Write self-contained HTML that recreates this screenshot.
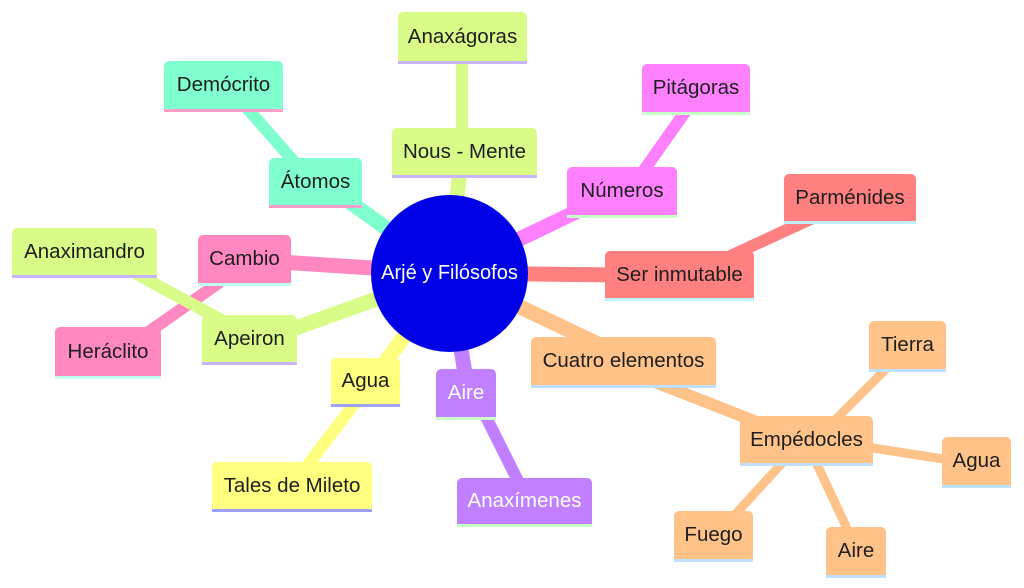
<!DOCTYPE html>
<html><head><meta charset="utf-8"><style>
body{margin:0;width:1024px;height:588px;background:#fff;position:relative;overflow:hidden;font-family:"Liberation Sans",sans-serif}
.b{position:absolute;box-sizing:border-box;border-radius:5px 5px 0 0;font-size:20.5px;color:#1e1e1e;display:flex;align-items:center;justify-content:center;border-bottom:3px solid;white-space:nowrap}
svg{position:absolute;left:0;top:0}
.g{background:#d9fb88;border-color:#c8b4ff}
.t{background:#80ffcf;border-color:#ff9ec8}
.m{background:#ff80ff;border-color:#c8ffc8}
.s{background:#ff8080;border-color:#c0f4ff}
.p{background:#ff88c0;border-color:#c0fff0}
.y{background:#ffff80;border-color:#a0a0ff}
.v{background:#c080ff;border-color:#c8ffc8}
.o{background:#ffc288;border-color:#c0e0ff}
</style></head><body>
<svg width="1024" height="588" stroke-linecap="butt">
<g stroke-width="15">
<line x1="449" y1="273" x2="460" y2="170" stroke="#d9fb88"/>
<line x1="449" y1="273" x2="340" y2="195" stroke="#80ffcf"/>
<line x1="449" y1="273" x2="580" y2="210" stroke="#ff80ff"/>
<line x1="449" y1="273" x2="620" y2="275" stroke="#ff8080"/>
<line x1="449" y1="273" x2="280" y2="262" stroke="#ff88c0"/>
<line x1="449" y1="273" x2="290" y2="330" stroke="#d9fb88"/>
<line x1="449" y1="273" x2="380" y2="370" stroke="#ffff80"/>
<line x1="449" y1="273" x2="466" y2="380" stroke="#c080ff"/>
<line x1="449" y1="273" x2="600" y2="345" stroke="#ffc288"/>
</g>
<g stroke-width="12">
<line x1="462" y1="150" x2="462" y2="55" stroke="#d9fb88"/>
<line x1="310" y1="180" x2="240" y2="100" stroke="#80ffcf"/>
<line x1="630" y1="190" x2="690" y2="105" stroke="#ff80ff"/>
<line x1="700" y1="270" x2="830" y2="210" stroke="#ff8080"/>
<line x1="220" y1="282" x2="130" y2="345" stroke="#ff88c0"/>
<line x1="240" y1="330" x2="120" y2="265" stroke="#d9fb88"/>
<line x1="365" y1="390" x2="300" y2="475" stroke="#ffff80"/>
<line x1="480" y1="405" x2="520" y2="485" stroke="#c080ff"/>
<line x1="650" y1="380" x2="790" y2="435" stroke="#ffc288"/>
</g>
<g stroke-width="9" stroke="#ffc288">
<line x1="825" y1="430" x2="890" y2="365"/>
<line x1="860" y1="446" x2="950" y2="460"/>
<line x1="815" y1="460" x2="850" y2="535"/>
<line x1="785" y1="460" x2="730" y2="520"/>
</g>
</svg>
<div style="position:absolute;left:371px;top:195px;width:157px;height:157px;border-radius:50%;background:#0000e6;color:#fff;font-size:20px;display:flex;align-items:center;justify-content:center">Arjé y Filósofos</div>
<div class="b g" style="left:398px;top:12px;width:129px;height:52px">Anaxágoras</div>
<div class="b g" style="left:392px;top:128px;width:145px;height:50px">Nous - Mente</div>
<div class="b t" style="left:164px;top:61px;width:119px;height:51px">Demócrito</div>
<div class="b t" style="left:269px;top:158px;width:93px;height:50px">Átomos</div>
<div class="b m" style="left:642px;top:64px;width:108px;height:51px">Pitágoras</div>
<div class="b m" style="left:567px;top:167px;width:110px;height:51px">Números</div>
<div class="b s" style="left:784px;top:174px;width:132px;height:50px">Parménides</div>
<div class="b s" style="left:605px;top:251px;width:149px;height:50px">Ser inmutable</div>
<div class="b p" style="left:198px;top:235px;width:93px;height:51px">Cambio</div>
<div class="b g" style="left:12px;top:228px;width:145px;height:50px">Anaximandro</div>
<div class="b p" style="left:55px;top:327px;width:106px;height:52px">Heráclito</div>
<div class="b g" style="left:202px;top:315px;width:95px;height:50px">Apeiron</div>
<div class="b y" style="left:331px;top:358px;width:69px;height:49px">Agua</div>
<div class="b y" style="left:212px;top:462px;width:160px;height:50px">Tales de Mileto</div>
<div class="b v" style="left:436px;top:369px;width:60px;height:51px;color:#fff">Aire</div>
<div class="b v" style="left:457px;top:478px;width:135px;height:49px;color:#fff">Anaxímenes</div>
<div class="b o" style="left:531px;top:337px;width:185px;height:51px">Cuatro elementos</div>
<div class="b o" style="left:740px;top:416px;width:133px;height:50px">Empédocles</div>
<div class="b o" style="left:869px;top:321px;width:77px;height:51px">Tierra</div>
<div class="b o" style="left:942px;top:437px;width:69px;height:51px">Agua</div>
<div class="b o" style="left:826px;top:527px;width:60px;height:51px">Aire</div>
<div class="b o" style="left:674px;top:511px;width:79px;height:51px">Fuego</div>
</body></html>
